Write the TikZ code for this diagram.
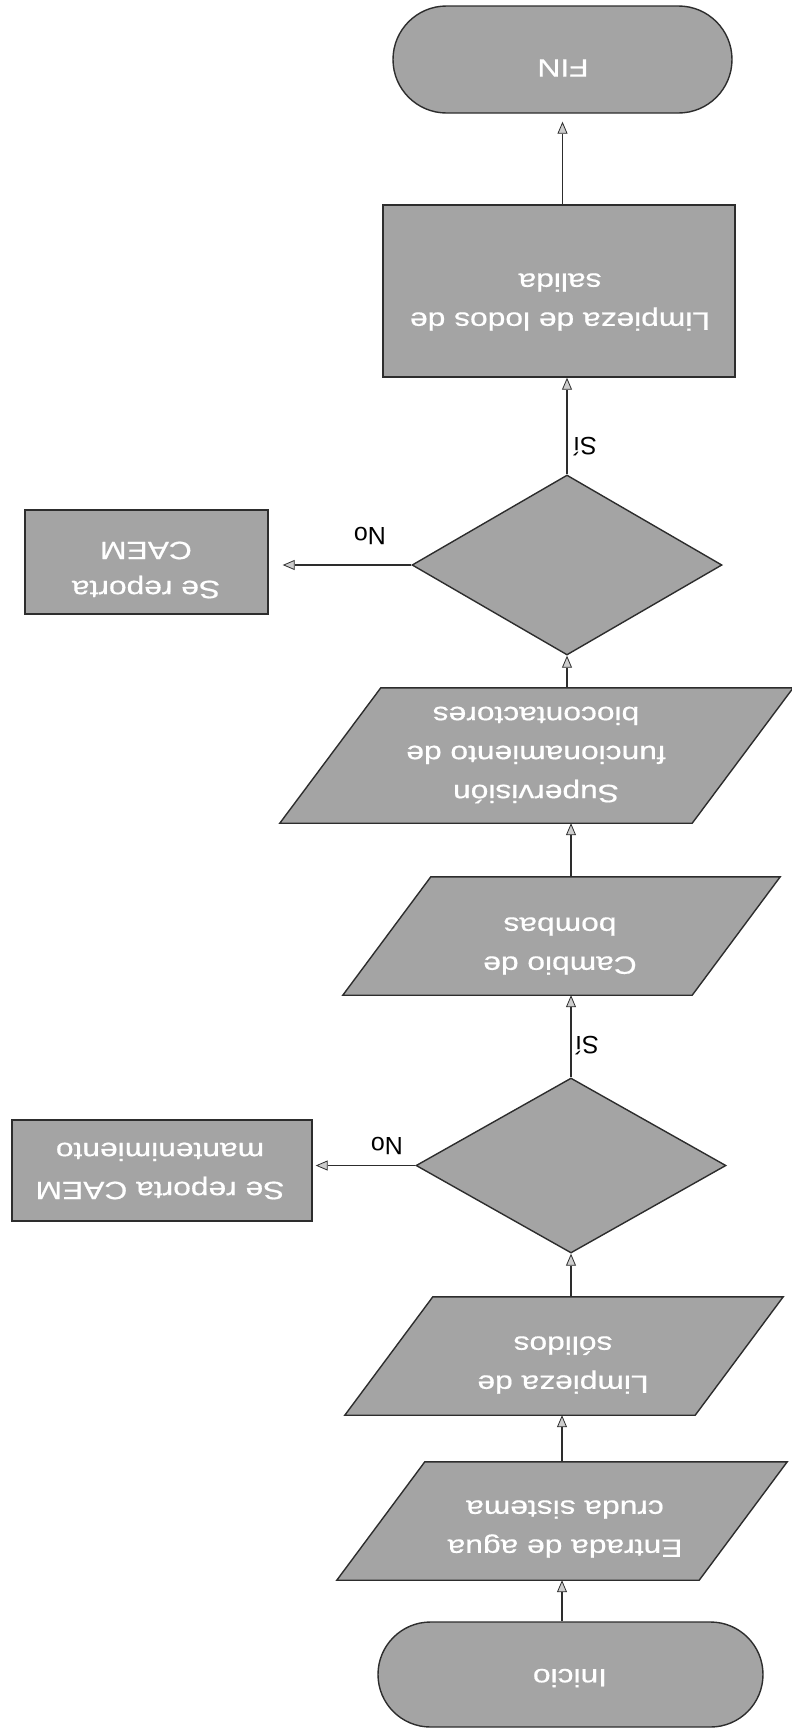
\documentclass[tikz,border=0pt]{standalone}
\usepackage{fontspec}
\setmainfont{Liberation Sans}
\newfontfamily\boxfont[FakeStretch=1.27,FakeBold=0.6]{Liberation Sans}
\usetikzlibrary{shapes.geometric,shapes.misc,arrows.meta}
\definecolor{boxfill}{RGB}{164,164,164}
\definecolor{edgecol}{RGB}{45,45,45}
\definecolor{tipfill}{RGB}{205,205,205}
\begin{document}
\begin{tikzpicture}[x=1pt,y=-1pt,
  shapebox/.style={draw=edgecol, line width=1.4pt, fill=boxfill, inner sep=0pt},
  term/.style={shapebox, rounded rectangle},
  proc/.style={shapebox, rectangle},
  ioframe/.style={rectangle, inner sep=0pt},
  iobox/.style={draw=edgecol, line width=1.4pt, fill=boxfill, line join=miter},
  dec/.style={shapebox, diamond},
  txt/.style={rotate=180, text=white, font=\boxfont\fontsize{25}{39}\selectfont, align=center, inner sep=0pt},
  lbl/.style={rotate=180, font=\fontsize{25}{30}\selectfont, inner sep=0pt},
  arr/.style={draw=edgecol, line width=1.2pt, -{Triangle[length=12pt,width=10pt,fill=tipfill,color=edgecol,line width=0.8pt]}}
]
\useasboundingbox (0,0) rectangle (792,1732);

% terminals, processes, decisions
\node[term, minimum width=339pt, minimum height=107pt] (fin) at (562.5,59.5) {};
\node[proc, minimum width=352pt, minimum height=172pt] (lodos) at (559,291) {};
\node[dec, minimum width=310pt, minimum height=180pt] (dia2) at (567,565) {};
\node[proc, minimum width=243pt, minimum height=104pt] (no1) at (146.5,562) {};
\node[dec, minimum width=310pt, minimum height=175pt] (dia1) at (571,1165.5) {};
\node[proc, minimum width=300pt, minimum height=101pt] (no2) at (162,1170.5) {};
\node[term, minimum width=385pt, minimum height=105pt] (ini) at (570.5,1674.5) {};

% parallelograms (frame nodes + drawn outline)
\node[ioframe, minimum width=513pt, minimum height=135pt] (sup) at (536.5,755.5) {};
\node[ioframe, minimum width=437pt, minimum height=118pt] (cam) at (561.5,936) {};
\node[ioframe, minimum width=438pt, minimum height=118pt] (sol) at (564,1356) {};
\node[ioframe, minimum width=450pt, minimum height=118pt] (ent) at (562,1521) {};
\path[iobox] (sup.south west) -- ([xshift=-101pt]sup.south east) -- (sup.north east) -- ([xshift=101pt]sup.north west) -- cycle;
\path[iobox] (cam.south west) -- ([xshift=-88pt]cam.south east) -- (cam.north east) -- ([xshift=88pt]cam.north west) -- cycle;
\path[iobox] (sol.south west) -- ([xshift=-88pt]sol.south east) -- (sol.north east) -- ([xshift=88pt]sol.north west) -- cycle;
\path[iobox] (ent.south west) -- ([xshift=-88pt]ent.south east) -- (ent.north east) -- ([xshift=88pt]ent.north west) -- cycle;

% texts
\node[txt] (fint) at (563,68) {FIN};
\node[txt] (lodost) at (560,302) {Limpieza de lodos de\\salida};
\node[txt] (no1t) at (146,570) {Se reporta\\CAEM};
\node[txt] (supt) at (536,755) {Supervisión\\funcionamiento de\\biocontactores};
\node[txt] (camt) at (560,946) {Cambio de\\bombas};
\node[txt] (no2t) at (160,1171) {Se reporta CAEM\\mantenimiento};
\node[txt] (solt) at (563,1365) {Limpieza de\\sólidos};
\node[txt] (entt) at (565,1529) {Entrada de agua\\cruda sistema};
\node[txt] (init) at (570,1678) {Inicio};

% connectors
\draw[arr] (ent |- ini.north) -- (ent |- ent.south);
\draw[arr] (ent |- ent.north) -- (ent |- sol.south);
\draw[arr] (dia1 |- sol.north) -- (dia1.south);
\draw[arr] (dia1.north) -- (dia1 |- cam.south);
\draw[arr] (dia1 |- cam.north) -- (dia1 |- sup.south);
\draw[arr] (dia2 |- sup.north) -- (dia2.south);
\draw[arr] (dia2.north) -- (dia2 |- lodos.south);
\draw[arr, shorten >=8pt] (fin |- lodos.north) -- (fin.south);
\draw[arr, shorten >=14pt] (dia2.west) -- (no1.east |- dia2.west);
\draw[arr, shorten >=3pt] (dia1.west) -- (no2.east |- dia1.west);

% labels
\node[lbl] (si2) at (585,447) {Sí};
\node[lbl] (si1) at (587,1046) {Sí};
\node[lbl] (no2l) at (370,536) {No};
\node[lbl] (no1l) at (387,1146) {No};
\end{tikzpicture}
\end{document}
